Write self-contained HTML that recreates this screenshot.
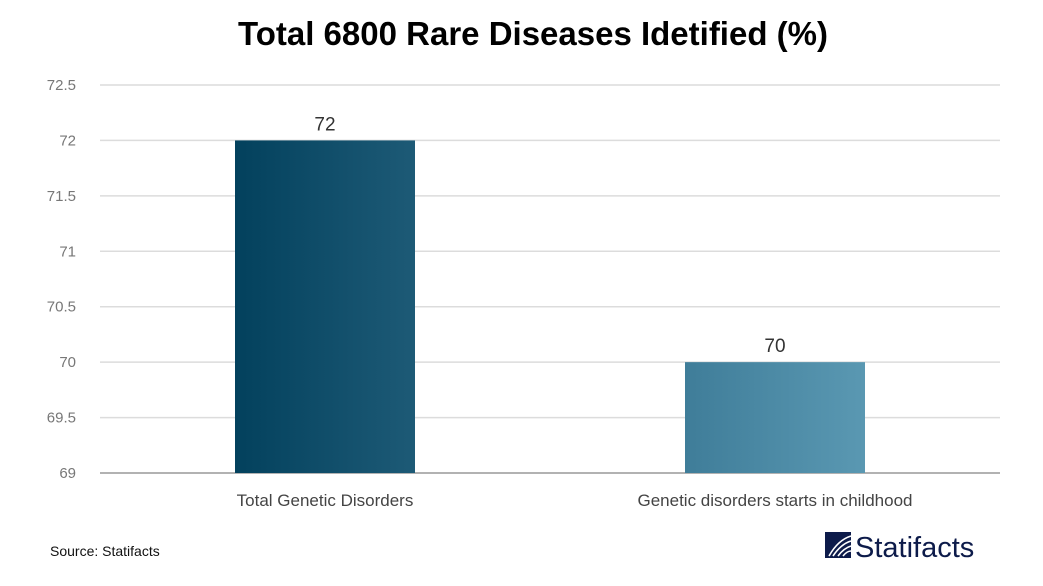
<!DOCTYPE html>
<html><head><meta charset="utf-8"><style>
body{margin:0;background:#fff;font-family:"Liberation Sans",sans-serif;}
svg{display:block}
</style></head><body>
<svg id="c" width="1043" height="586" xmlns="http://www.w3.org/2000/svg">
<defs>
<linearGradient id="g1" x1="0" x2="1" y1="0" y2="0"><stop offset="0" stop-color="#03415d"/><stop offset="1" stop-color="#1d5a76"/></linearGradient>
<linearGradient id="g2" x1="0" x2="1" y1="0" y2="0"><stop offset="0" stop-color="#3f7d99"/><stop offset="1" stop-color="#5a98b2"/></linearGradient>
</defs>
<text x="533" y="45" text-anchor="middle" font-size="33" font-weight="bold" fill="#000">Total 6800 Rare Diseases Idetified (%)</text>
<g id="grid"></g><g id="bars"></g>
<text x="50" y="556" font-size="14" fill="#111">Source: Statifacts</text>
<g>
<rect x="825" y="532" width="26" height="26" fill="#0d1b4a"/>
<path d="M829 556 Q838 540 851 536 M833 556 Q841 544 851 541 M838 556 Q844 548 851 546 M843 556 Q847 551 851 551" stroke="#fff" stroke-width="1.6" fill="none"/>
<text x="855" y="557" font-size="29" fill="#0d1b4a">Statifacts</text>
</g>
</svg>
<script>
const categories=["Total Genetic Disorders","Genetic disorders starts in childhood"];
const values=[72,70];
const ticks=[69,69.5,70,70.5,71,71.5,72,72.5];
const NS="http://www.w3.org/2000/svg";
const y0=473,y1=85,vmin=69,vmax=72.5;
const y=v=>y0-(v-vmin)/(vmax-vmin)*(y0-y1);
const left=100,right=1000,band=(right-left)/categories.length,bw=180;
const grid=document.getElementById('grid'),bars=document.getElementById('bars');
function mk(t,a,p){const e=document.createElementNS(NS,t);for(const k in a)e.setAttribute(k,a[k]);p.appendChild(e);return e;}
ticks.forEach(t=>{
 const l=mk('line',{x1:left,x2:right,y1:y(t),y2:y(t),stroke:t===vmin?'#999':'#dcdcdc','stroke-width':1.5},grid);
 
 
 const tx=mk('text',{x:76,y:y(t)+5,'text-anchor':'end','font-size':15,fill:'#777'},grid);
 tx.textContent=String(t);
 
 
});
categories.forEach((c,i)=>{
 const cx=left+band*(i+0.5);
 const r=mk('rect',{x:cx-bw/2,y:y(values[i]),width:bw,height:y0-y(values[i]),fill:i===0?'url(#g1)':'url(#g2)'},bars);
 
 
 const v=mk('text',{x:cx,y:y(values[i])-10,'text-anchor':'middle','font-size':19,fill:'#333'},bars);
 v.textContent=values[i];
 
 
 const lb=mk('text',{x:cx,y:506,'text-anchor':'middle','font-size':17,fill:'#444'},bars);
 lb.textContent=c;
 
 
});
</script>
</body></html>
